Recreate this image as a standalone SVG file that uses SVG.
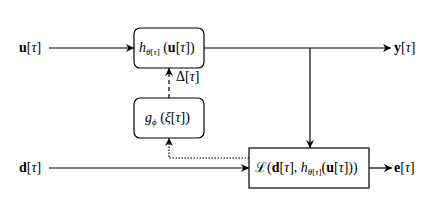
<svg xmlns="http://www.w3.org/2000/svg" width="448" height="216" viewBox="0 0 448 216">
<style>
.box{fill:#fff;stroke:#000;stroke-width:1.2}
.ln{fill:none;stroke:#000;stroke-width:1.2}
text{font-family:"Liberation Serif","DejaVu Serif",serif;font-size:14px;fill:#000}
.b{font-weight:bold}
.i{font-style:italic}
.s{font-size:9px}
</style>
<defs>
<marker id="ar" viewBox="0 0 10 10" refX="10" refY="5" markerWidth="8" markerHeight="8" markerUnits="userSpaceOnUse" orient="auto">
<path d="M0,0 L10,5 L0,10 L3,5 z" fill="#000"/>
</marker>
</defs>
<g id="connectors">
<line class="ln" x1="49" y1="48" x2="134" y2="48" marker-end="url(#ar)"/>
<line class="ln" x1="204" y1="48" x2="391" y2="48" marker-end="url(#ar)"/>
<line class="ln" x1="310" y1="48" x2="310" y2="148" marker-end="url(#ar)"/>
<line class="ln" x1="49" y1="168" x2="249" y2="168" marker-end="url(#ar)"/>
<line class="ln" x1="369" y1="168" x2="392" y2="168" marker-end="url(#ar)"/>
<line class="ln" x1="169" y1="98" x2="169" y2="68" stroke-dasharray="4 3" stroke-width="1.6" marker-end="url(#ar)"/>
<polyline class="ln" points="249,158 169,158 169,138" stroke-dasharray="1.5 1.5" stroke-width="1.6" marker-end="url(#ar)"/>
<text x="176" y="81"><tspan>Δ[</tspan><tspan class="i">τ</tspan><tspan>]</tspan></text>
</g>
<g id="u-label"><text x="19" y="52"><tspan class="b">u</tspan><tspan>[</tspan><tspan class="i">τ</tspan><tspan>]</tspan></text></g>
<g id="d-label"><text x="19" y="172"><tspan class="b">d</tspan><tspan>[</tspan><tspan class="i">τ</tspan><tspan>]</tspan></text></g>
<g id="y-label"><text x="394" y="52"><tspan class="b">y</tspan><tspan>[</tspan><tspan class="i">τ</tspan><tspan>]</tspan></text></g>
<g id="e-label"><text x="394" y="172"><tspan class="b">e</tspan><tspan>[</tspan><tspan class="i">τ</tspan><tspan>]</tspan></text></g>
<g id="h-node">
<rect class="box" x="134" y="28" width="70" height="40" rx="6"/>
<text x="139" y="52"><tspan class="i">h</tspan><tspan class="s i" dy="3">θ</tspan><tspan class="s">[</tspan><tspan class="s i">τ</tspan><tspan class="s">]</tspan><tspan dy="-3"> (</tspan><tspan class="b">u</tspan><tspan>[</tspan><tspan class="i">τ</tspan><tspan>])</tspan></text>
</g>
<g id="g-node">
<rect class="box" x="134" y="98" width="70" height="40" rx="6"/>
<text x="145" y="122"><tspan class="i">g</tspan><tspan class="s i" dy="3">ϕ</tspan><tspan dy="-3"> (</tspan><tspan class="i">ξ</tspan><tspan>[</tspan><tspan class="i">τ</tspan><tspan>])</tspan></text>
</g>
<g id="L-node">
<rect class="box" x="249" y="148" width="120" height="40"/>
<text x="255" y="172"><tspan>ℒ(</tspan><tspan class="b">d</tspan><tspan>[</tspan><tspan class="i">τ</tspan><tspan>], </tspan><tspan class="i">h</tspan><tspan class="s i" dy="3">θ</tspan><tspan class="s">[</tspan><tspan class="s i">τ</tspan><tspan class="s">]</tspan><tspan dy="-3">(</tspan><tspan class="b">u</tspan><tspan>[</tspan><tspan class="i">τ</tspan><tspan>]))</tspan></text>
</g>
</svg>
